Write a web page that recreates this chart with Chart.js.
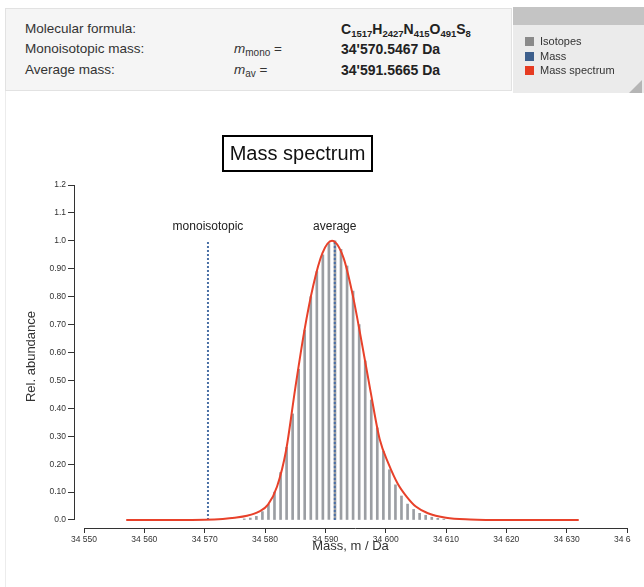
<!DOCTYPE html>
<html>
<head>
<meta charset="utf-8">
<script src="https://cdn.jsdelivr.net/npm/chart.js@4.4.1/dist/chart.umd.min.js"></script>
<style>
  body { margin: 0; width: 644px; height: 587px; overflow: hidden; background: #fff;
         font-family: Arial, "Liberation Sans", sans-serif; color: #333; position: relative; }
  #plotWrap { position: absolute; left: 0; top: 0; width: 631px; height: 587px; overflow: hidden; }
  #chart { position: absolute; left: 0; top: 0; }
  #info { position: absolute; left: 5px; top: 8px; width: 505px; height: 81px;
          background: #f5f5f5; border: 1px solid #e2e2e2; font-size: 13.5px; }
  #info .row { position: absolute; left: 19px; white-space: nowrap; }
  #info .sym { position: absolute; left: 228px; white-space: nowrap; }
  #info .val { position: absolute; left: 335px; white-space: nowrap; font-weight: bold; font-size: 14px; color: #222; }
  #info sub { font-size: 9.5px; vertical-align: -3px; line-height: 0; }
  #info .sym sub { font-size: 10px; }
  #leftEdge { position: absolute; left: 5px; top: 90px; width: 1px; height: 497px; background: #ececec; }
  #legend { position: absolute; left: 513px; top: 7px; width: 140px; height: 86px; background: #ebebeb; }
  #legend .bar { height: 18px; background: #c4c4c4; }
  #legend .item { position: absolute; left: 12px; font-size: 11px; color: #333; white-space: nowrap; }
  #legend .sw { display: inline-block; width: 9px; height: 9px; vertical-align: -1px; margin-right: 6px; }
  #grip { position: absolute; left: 629px; top: 80px; width: 0; height: 0;
          border-left: 13px solid transparent; border-bottom: 13px solid #b5b5b5; }
  #title { position: absolute; left: 222px; top: 135px; width: 147px; height: 33px;
           border: 2px solid #000; font-size: 20px; line-height: 33px; text-align: center; color: #111; }
</style>
</head>
<body>
<div id="plotWrap"><canvas id="chart" width="644" height="587"></canvas></div>
<div id="leftEdge"></div>
<div id="info">
  <div class="row" style="top:12px">Molecular formula:</div>
  <div class="val" style="top:12px">C<sub>1517</sub>H<sub>2427</sub>N<sub>415</sub>O<sub>491</sub>S<sub>8</sub></div>
  <div class="row" style="top:32px">Monoisotopic mass:</div>
  <div class="sym" style="top:32px"><i>m</i><sub>mono</sub> =</div>
  <div class="val" style="top:32px">34'570.5467 Da</div>
  <div class="row" style="top:53px">Average mass:</div>
  <div class="sym" style="top:53px"><i>m</i><sub>av</sub> =</div>
  <div class="val" style="top:53px">34'591.5665 Da</div>
</div>
<div id="legend">
  <div class="bar"></div>
  <div class="item" style="top:28px"><span class="sw" style="background:#8a8a8a"></span>Isotopes</div>
  <div class="item" style="top:43px"><span class="sw" style="background:#3d5f8c"></span>Mass</div>
  <div class="item" style="top:57px"><span class="sw" style="background:#e63b21"></span>Mass spectrum</div>
</div>
<div id="grip"></div>
<div id="title">Mass spectrum</div>

<script>
// isotope peaks (Da) and relative abundance
const isoMass = [34576.56, 34577.56, 34578.57, 34579.57, 34580.57, 34581.57, 34582.58, 34583.58,
  34584.58, 34585.58, 34586.58, 34587.59, 34588.59, 34589.59, 34590.59, 34591.60, 34592.60,
  34593.60, 34594.60, 34595.61, 34596.61, 34597.61, 34598.61, 34599.62, 34600.62, 34601.62,
  34602.62, 34603.63, 34604.63, 34605.63, 34606.63, 34607.64, 34608.64, 34609.64];
const isoAbund = [0.004, 0.007, 0.013, 0.03, 0.056, 0.10, 0.17, 0.26,
  0.38, 0.54, 0.68, 0.80, 0.89, 0.95, 0.99, 1.0, 0.97,
  0.91, 0.82, 0.70, 0.57, 0.43, 0.33, 0.246, 0.18, 0.126,
  0.086, 0.057, 0.038, 0.024, 0.017, 0.01, 0.006, 0.003];

// mass spectrum envelope
const specMass = [34557, 34565, 34570, 34573, 34575, 34577, 34579, 34580.5, 34582, 34583.5,
  34585, 34586.5, 34588, 34589.5, 34591.1, 34593, 34594.5, 34596, 34597.5, 34599,
  34600.5, 34602, 34603.5, 34605, 34607, 34610, 34614, 34620, 34632];
const specAbund = [0, 0, 0.001, 0.004, 0.008, 0.015, 0.03, 0.055, 0.12, 0.25,
  0.47, 0.675, 0.84, 0.955, 1.0, 0.94, 0.81, 0.64, 0.46, 0.29,
  0.2, 0.13, 0.083, 0.048, 0.024, 0.008, 0.002, 0, 0];

// monoisotopic and average mass markers
const markLabels = ['monoisotopic', 'average'];
const markMass = [34570.5467, 34591.5665];
const markHeight = [1.0, 1.0];

const xTickValues = [34550, 34560, 34570, 34580, 34590, 34600, 34610, 34620, 34630, 34640];
const xTickLabels = ['34 550', '34 560', '34 570', '34 580', '34 590', '34 600', '34 610', '34 620', '34 630', '34 640'];
const yTickValues = [0, 0.1, 0.2, 0.3, 0.4, 0.5, 0.6, 0.7, 0.8, 0.9, 1.0, 1.1, 1.2];
const yTickLabels = ['0.0', '0.10', '0.20', '0.30', '0.40', '0.50', '0.60', '0.70', '0.80', '0.90', '1.0', '1.1', '1.2'];

const AXIS = '#333';
const tickFont = { family: 'Arial, "Liberation Sans", sans-serif', size: 8.5 };

// d3-like detached axis lines + marker labels
const axisPlugin = {
  id: 'axisLines',
  afterDatasetsDraw(chart) {
    const { ctx, scales: { x, y }, chartArea } = chart;
    ctx.save();
    ctx.strokeStyle = AXIS;
    ctx.lineWidth = 1;
    ctx.beginPath();
    const ax = Math.round(chartArea.left) + 0.5;
    ctx.moveTo(ax, y.getPixelForValue(yTickValues[0]));
    ctx.lineTo(ax, y.getPixelForValue(yTickValues[yTickValues.length - 1]));
    const ay = Math.round(chartArea.bottom) + 0.5;
    ctx.moveTo(x.getPixelForValue(xTickValues[0]), ay);
    ctx.lineTo(x.getPixelForValue(xTickValues[xTickValues.length - 1]), ay);
    ctx.stroke();

    ctx.fillStyle = '#222';
    ctx.font = '12px Arial, "Liberation Sans", sans-serif';
    ctx.textAlign = 'center';
    ctx.textBaseline = 'middle';
    markLabels.forEach((t, i) => {
      ctx.fillText(t, x.getPixelForValue(markMass[i]), y.getPixelForValue(markHeight[i]) - 14);
    });
    ctx.restore();
  }
};

const markSets = markLabels.map((t, i) => ({
  type: 'line',
  label: t,
  data: [{ x: markMass[i], y: 0 }, { x: markMass[i], y: markHeight[i] }],
  borderColor: '#4a70a6',
  borderWidth: 2,
  borderDash: [2, 2],
  pointRadius: 0,
  order: 1
}));

new Chart(document.getElementById('chart'), {
  type: 'bar',
  data: {
    datasets: [
      {
        type: 'line',
        label: 'Mass spectrum',
        data: specMass.map((m, i) => ({ x: m, y: specAbund[i] })),
        borderColor: '#e8412a',
        borderWidth: 2,
        pointRadius: 0,
        cubicInterpolationMode: 'monotone',
        order: 0
      },
      ...markSets,
      {
        type: 'bar',
        label: 'Isotopes',
        data: isoMass.map((m, i) => ({ x: m, y: isoAbund[i] })),
        backgroundColor: '#9b9ea3',
        barThickness: 2,
        grouped: false,
        order: 2
      }
    ]
  },
  options: {
    responsive: false,
    animation: false,
    devicePixelRatio: 1,
    layout: { padding: { top: 185, right: 17, left: 0, bottom: 0 } },
    plugins: { legend: { display: false }, tooltip: { enabled: false }, title: { display: false } },
    scales: {
      x: {
        type: 'linear',
        offset: false,
        min: 34548.342,
        max: 34640,
        afterBuildTicks: s => { s.ticks = xTickValues.map(v => ({ value: v })); },
        afterFit: s => { s.height = 59; s.paddingLeft = 0; s.paddingRight = 0; },
        ticks: {
          autoSkip: false, maxRotation: 0, padding: 2, color: AXIS, font: tickFont,
          callback: (v, i) => xTickLabels[i]
        },
        grid: { offset: false, drawOnChartArea: false, drawTicks: true, tickLength: 5, color: AXIS },
        border: { display: false },
        title: {
          display: true, text: 'Mass, m / Da', color: AXIS,
          font: { family: 'Arial, "Liberation Sans", sans-serif', size: 13 },
          padding: { top: 0, bottom: 33 }
        }
      },
      y: {
        min: -0.02866,
        max: 1.2,
        afterBuildTicks: s => { s.ticks = yTickValues.map(v => ({ value: v })); },
        afterFit: s => { s.width = 74; s.paddingTop = 0; s.paddingBottom = 0; },
        ticks: {
          padding: 2, color: AXIS, font: tickFont,
          callback: (v, i) => yTickLabels[i]
        },
        grid: { drawOnChartArea: false, drawTicks: true, tickLength: 6, color: AXIS },
        border: { display: false },
        title: {
          display: true, text: 'Rel. abundance', color: AXIS,
          font: { family: 'Arial, "Liberation Sans", sans-serif', size: 13 },
          padding: { top: 24, bottom: 0 }
        }
      }
    }
  },
  plugins: [axisPlugin]
});
</script>
</body>
</html>
